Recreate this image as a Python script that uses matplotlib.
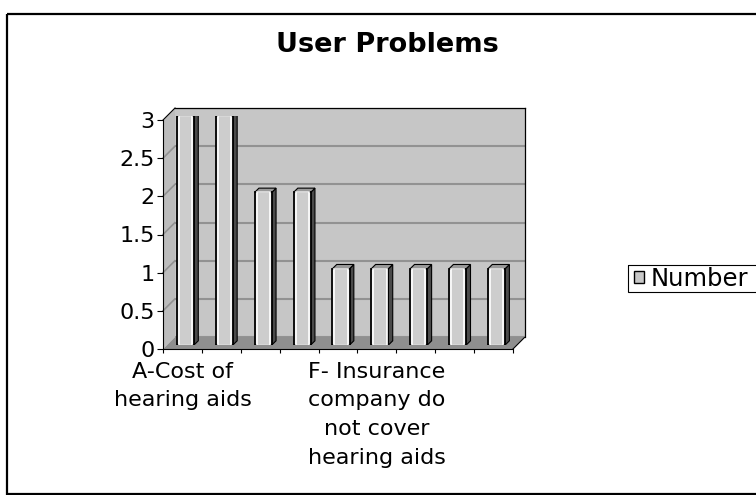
import numpy as np
import matplotlib
matplotlib.use('Agg')
import matplotlib.pyplot as plt
from matplotlib.patches import Polygon, Rectangle, Patch

# data
categories = ['A-Cost of\nhearing aids', 'B', 'C', 'D', 'E',
              'F- Insurance\ncompany do\nnot cover\nhearing aids', 'G', 'H', 'I']
values = [3, 3, 2, 2, 1, 1, 1, 1, 1]
shown_labels = [0, 5]          # excel only had room for every 5th label
yticks = [0, 0.5, 1, 1.5, 2, 2.5, 3]
ytick_labels = ['0', '0.5', '1', '1.5', '2', '2.5', '3']
series_name = 'Number'

W, H = 756, 495
plt.rcParams['font.family'] = 'DejaVu Sans'
fig = plt.figure(figsize=(W / 100, H / 100), dpi=100)


def px_axes(l, t, r, b):
    return fig.add_axes([l / W, 1 - b / H, (r - l) / W, (b - t) / H])

# front plane of the 3d box, in pixels
fl, ft, fr, fb = 163, 120, 513, 349
dx, dy = 12, -12      # depth of the back wall
n = len(values)
ymax = 3

# background: frame, side wall, floor, legend box
bg = px_axes(0, 0, W, H)
bg.set_xlim(0, W)
bg.set_ylim(H, 0)
bg.axis('off')
bg.add_patch(Rectangle((7, 14), W, 480, fill=False, ec='black', lw=1.6))
bg.add_patch(Rectangle((628, 265), 200, 27, fill=False, ec='black', lw=0.8))
bg.add_patch(Polygon([(fl, ft), (fl + dx, ft + dy), (fl + dx, fb + dy), (fl, fb)],
                     fc='#bcbcbc', ec='none'))
bg.add_patch(Polygon([(fl, fb), (fr, fb), (fr + dx, fb + dy), (fl + dx, fb + dy)],
                     fc='#8f8f8f', ec='none'))
bg.plot([fl, fl + dx], [ft, ft + dy], color='black', lw=0.8)
bg.plot([fr, fr + dx], [fb, fb + dy], color='black', lw=0.8)
for v in yticks[1:-1]:
    yy = fb - v * (fb - ft) / ymax
    bg.plot([fl, fl + dx], [yy, yy + dy], color='#929292', lw=1.2)

# back wall with gridlines
wall = px_axes(fl + dx, ft + dy, fr + dx, fb + dy)
wall.set_facecolor('#c6c6c6')
wall.set_xlim(-0.5, n - 0.5)
wall.set_ylim(0, ymax)
wall.set_yticks(yticks)
wall.set_xticks([])
wall.tick_params(left=False, labelleft=False)
wall.grid(axis='y', color='#929292', lw=1.5)
for s in ['left', 'bottom']:
    wall.spines[s].set_visible(False)
for s in ['top', 'right']:
    wall.spines[s].set_linewidth(0.9)

# front axes with ticks and labels
ax = px_axes(fl, ft, fr, fb)
ax.patch.set_visible(False)
ax.set_xlim(-0.5, n - 0.5)
ax.set_ylim(0, ymax)
ax.set_yticks(yticks)
ax.set_yticklabels(ytick_labels, fontsize=16)
ax.set_xticks(np.arange(n + 1) - 0.5)
ax.set_xticklabels([])
ax.set_xticks(shown_labels, minor=True)
ax.set_xticklabels([categories[i] for i in shown_labels], minor=True,
                   fontsize=16, linespacing=1.55, va='top', ha='center')
ax.tick_params(axis='x', which='major', length=3, width=0.8)
ax.tick_params(axis='x', which='minor', length=0, pad=9)
ax.tick_params(axis='y', length=4, width=0.8, pad=2)
ax.spines['top'].set_visible(False)
ax.spines['right'].set_visible(False)
ax.spines['left'].set_linewidth(0.8)
ax.spines['bottom'].set_linewidth(0.8)

# bars sit a little behind the front plane
bx = px_axes(fl + 3, ft - 4, fr + 3, fb - 4)
bx.patch.set_visible(False)
bx.axis('off')
bx.set_xlim(-0.5, n - 0.5)
bx.set_ylim(0, ymax)
x = np.arange(n)
w = 0.44
sx, sy = 0.11, 0.055
bx.bar(x, values, width=w, color='#cdcdcd', edgecolor='black', lw=1.3, zorder=3)
bx.bar(x, values, width=w - 0.1, color='none', edgecolor='white', lw=1.2, zorder=4)
for xi, v in zip(x, values):
    r = xi + w / 2
    l = xi - w / 2
    bx.add_patch(Polygon([(r, 0), (r + sx, sy), (r + sx, v + sy), (r, v)],
                         fc='#4a4a4a', ec='black', lw=0.8, zorder=2))
    bx.add_patch(Polygon([(l, v), (r, v), (r + sx, v + sy), (l + sx, v + sy)],
                         fc='#9a9a9a', ec='black', lw=0.8, zorder=2))

fig.text(387 / W, 1 - 45 / H, 'User Problems', fontsize=19.5, fontweight='bold',
         ha='center', va='center')

leg = fig.legend(handles=[Patch(fc='#c8c8c8', ec='black', lw=1)], labels=[series_name],
                 loc='center left', bbox_to_anchor=(634 / W, 1 - 279 / H),
                 fontsize=17.5, frameon=False, borderaxespad=0,
                 handlelength=0.4, handleheight=0.4, handletextpad=0.3,
                 borderpad=0)

fig.savefig('out.png', dpi=100)
